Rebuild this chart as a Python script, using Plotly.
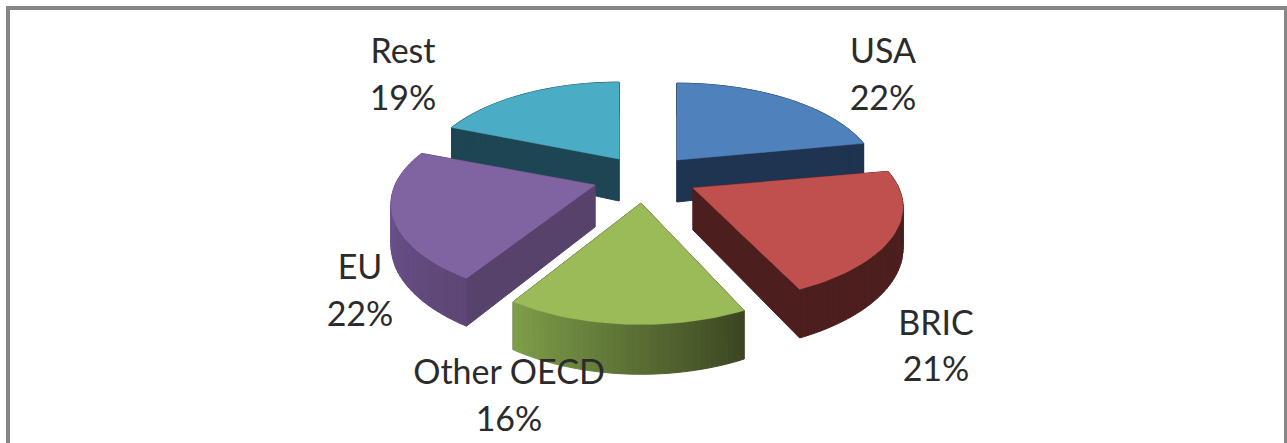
import math
import plotly.graph_objects as go

# --- data
categories = ["USA", "BRIC", "Other OECD", "EU", "Rest"]
shares = [22, 21, 16, 22, 19]

# --- style per slice
top_colors = ["#4F81BD", "#C0504D", "#9BBB59", "#8064A2", "#4BACC6"]
face_colors = ["#1F3450", "#4C1E1E", "#3A4520", "#57426B", "#1E4553"]
rim_start = ["#1F3450", "#4C1E1E", "#3C4722", "#5E4676", "#1E4553"]
rim_end = ["#1F3450", "#4C1E1E", "#80A04A", "#70569A", "#1E4553"]
draw_order = [0, 4, 3, 1, 2]

# --- layout: pie projection in page pixels
CX, CY = 645, 177
RX, RY = 197, 92
PERSPECTIVE = 0.197
DEPTH = 40
APEX_DEPTH = 42
pull_x = [32, 48, -4, -50, -26]
pull_y = [-17, 11, 26, 8, -18]
scale_x = [1.0, 1.045, 1.01, 1.015, 0.98]
scale_y = [1.0, 1.0, 1.06, 1.0, 1.0]
label_x = [883, 936, 509, 360, 403]
name_y = [54, 326, 375, 270, 54]
share_y = [101, 372, 422, 317, 101]


def rim_point(theta, ox, oy, fx, fy):
    sx, cy = math.sin(theta), math.cos(theta)
    s = 1 / (1 + PERSPECTIVE * cy)
    return ox + fx * RX * sx * s, oy - fy * RY * cy * s, DEPTH * s


def hex_mix(a, b, t):
    ca = [int(a[i:i + 2], 16) for i in (1, 3, 5)]
    cb = [int(b[i:i + 2], 16) for i in (1, 3, 5)]
    return "rgb(%d,%d,%d)" % tuple(round(p + (q - p) * t) for p, q in zip(ca, cb))


def poly(xs, ys, color, line=1):
    return go.Scatter(x=xs, y=ys, mode="lines", fill="toself", fillcolor=color,
                      line=dict(color=color, width=line), hoverinfo="skip",
                      showlegend=False)


fig = go.Figure()
total = sum(shares)
starts = []
acc = 0.0
for v in shares:
    starts.append(acc)
    acc += v / total * 2 * math.pi

STEPS = 40
for i in draw_order:
    a0 = starts[i]
    a1 = a0 + shares[i] / total * 2 * math.pi
    ox, oy = CX + pull_x[i], CY + pull_y[i]
    angles = [a0 + (a1 - a0) * k / STEPS for k in range(STEPS + 1)]
    pts = [rim_point(t, ox, oy, scale_x[i], scale_y[i]) for t in angles]
    # radial side faces
    for p in (pts[0], pts[-1]):
        fig.add_trace(poly([ox, p[0], p[0], ox, ox],
                           [oy, p[1], p[1] + p[2], oy + APEX_DEPTH, oy],
                           face_colors[i]))
    # outer rim wall as strips, shaded along the arc
    for k in range(STEPS):
        p, q = pts[k], pts[k + 1]
        fig.add_trace(poly([p[0], q[0], q[0], p[0], p[0]],
                           [p[1], q[1], q[1] + q[2], p[1] + p[2], p[1]],
                           hex_mix(rim_start[i], rim_end[i], k / STEPS)))
    # top surface
    fig.add_trace(poly([ox] + [p[0] for p in pts] + [ox],
                       [oy] + [p[1] for p in pts] + [oy], top_colors[i], line=0.5))

FONT = dict(family="Lato, Carlito, sans-serif", size=34, color="#2b2b2b")
fig.add_trace(go.Scatter(x=label_x, y=name_y, mode="text", text=categories,
                         textfont=FONT, textposition="middle center",
                         hoverinfo="skip", showlegend=False))
fig.add_trace(go.Scatter(x=label_x, y=share_y, mode="text",
                         text=[f"{v}%" for v in shares], textfont=FONT,
                         textposition="middle center", hoverinfo="skip",
                         showlegend=False))

fig.add_shape(type="rect", x0=8, y0=8, x1=1286, y1=520,
              line=dict(color="#868686", width=4), fillcolor="rgba(0,0,0,0)",
              layer="below")
fig.update_layout(
    width=1287, height=443, margin=dict(l=0, r=0, t=0, b=0),
    paper_bgcolor="white", plot_bgcolor="white",
    xaxis=dict(range=[0, 1287], visible=False, fixedrange=True),
    yaxis=dict(range=[443, 0], visible=False, fixedrange=True),
)
fig.write_html("out.html",
               post_script="document.body.style.margin='0';document.body.style.overflow='hidden';",
               config={"displayModeBar": False})
